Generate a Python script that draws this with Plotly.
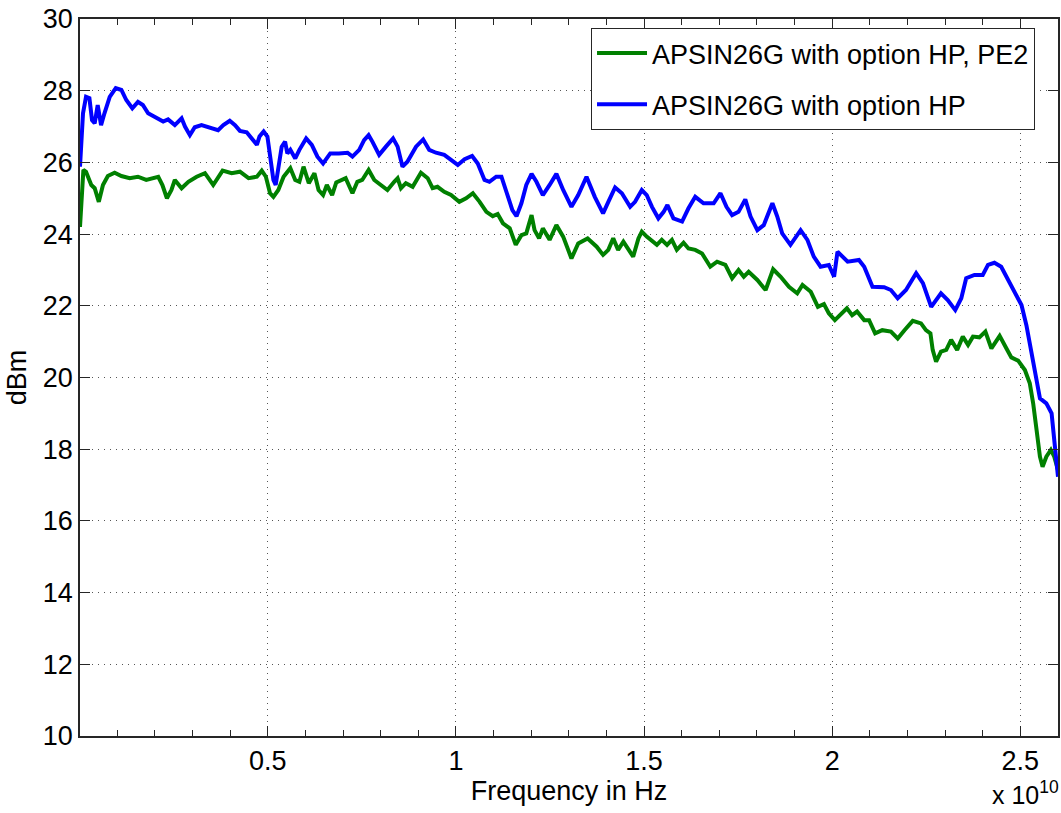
import plotly.graph_objects as go

# Frequencies in GHz, power in dBm
freq_hp_pe2 = [0.01, 0.10, 0.17, 0.31, 0.40, 0.51, 0.62, 0.75, 0.93, 1.11, 1.33, 1.55, 1.77, 1.95, 2.09,
               2.20, 2.32, 2.44, 2.53, 2.71, 2.89, 3.11, 3.33, 3.55, 3.80, 4.04, 4.26, 4.49, 4.71, 4.84,
               4.95, 5.06, 5.15, 5.28, 5.42, 5.60, 5.73, 5.84, 5.95, 6.09, 6.24, 6.35, 6.47, 6.57, 6.71,
               6.82, 7.07, 7.25, 7.38, 7.51, 7.68, 7.83, 8.01, 8.18, 8.36, 8.45, 8.54, 8.67, 8.85, 9.07,
               9.25, 9.38, 9.51, 9.69, 9.87, 10.09, 10.27, 10.45, 10.63, 10.81, 10.98, 11.11, 11.25, 11.43,
               11.59, 11.74, 11.87, 12.01, 12.09, 12.21, 12.31, 12.49, 12.67, 12.85, 13.07, 13.25, 13.50,
               13.74, 13.91, 14.05, 14.18, 14.31, 14.45, 14.58, 14.71, 14.85, 14.94, 15.07, 15.34, 15.47,
               15.61, 15.74, 15.87, 16.05, 16.18, 16.36, 16.54, 16.76, 16.94, 17.16, 17.34, 17.51, 17.65,
               17.78, 18.01, 18.23, 18.43, 18.63, 18.85, 19.07, 19.21, 19.43, 19.62, 19.78, 19.91, 20.07,
               20.26, 20.39, 20.53, 20.66, 20.85, 20.98, 21.14, 21.33, 21.56, 21.74, 21.92, 22.14, 22.36,
               22.49, 22.61, 22.67, 22.76, 22.89, 23.03, 23.16, 23.32, 23.47, 23.61, 23.74, 23.91, 24.07,
               24.23, 24.45, 24.63, 24.76, 24.94, 25.12, 25.25, 25.34, 25.43, 25.52, 25.59, 25.69, 25.81,
               25.90, 26.00]
dbm_hp_pe2 = [24.20, 25.79, 25.74, 25.37, 25.28, 24.90, 25.37, 25.62, 25.71, 25.62, 25.56, 25.60, 25.51, 25.56, 25.60,
              25.37, 25.00, 25.23, 25.51, 25.28, 25.46, 25.60, 25.70, 25.37, 25.77, 25.70, 25.74, 25.56, 25.60, 25.77,
              25.60, 25.14, 25.04, 25.23, 25.60, 25.84, 25.51, 25.46, 25.88, 25.42, 25.70, 25.23, 25.09, 25.37, 25.09,
              25.44, 25.56, 25.14, 25.46, 25.51, 25.79, 25.51, 25.37, 25.23, 25.46, 25.56, 25.28, 25.42, 25.32, 25.71,
              25.56, 25.28, 25.32, 25.18, 25.09, 24.90, 25.00, 25.14, 24.90, 24.62, 24.50, 24.56, 24.30, 24.16,
              23.70, 23.97, 24.02, 24.53, 24.11, 23.88, 24.16, 23.84, 24.25, 23.93, 23.32, 23.74, 23.88,
              23.65, 23.42, 23.56, 23.88, 23.56, 23.79, 23.56, 23.37, 23.88, 24.07, 23.93, 23.70, 23.84,
              23.70, 23.84, 23.56, 23.76, 23.60, 23.56, 23.46, 23.09, 23.23, 23.14, 22.77, 23.00, 22.81,
              22.95, 22.72, 22.44, 23.02, 22.81, 22.53, 22.35, 22.58, 22.39, 21.97, 22.05, 21.79, 21.60,
              21.81, 21.93, 21.74, 21.84, 21.60, 21.60, 21.23, 21.32, 21.28, 21.09, 21.32, 21.58, 21.51,
              21.32, 21.23, 20.77, 20.44, 20.72, 20.77, 21.05, 20.77, 21.14, 20.91, 21.14, 21.12, 21.28,
              20.81, 21.16, 20.81, 20.56, 20.47, 20.21, 19.84, 19.28, 18.54, 17.79, 17.51, 17.79, 17.98,
              17.79, 17.42]

freq_hp = [0.01, 0.09, 0.17, 0.26, 0.33, 0.40, 0.48, 0.57, 0.66, 0.80, 0.96, 1.11, 1.24, 1.40, 1.55,
           1.68, 1.82, 2.04, 2.22, 2.35, 2.53, 2.71, 2.80, 2.93, 3.06, 3.24, 3.42, 3.59, 3.68, 3.82,
           3.99, 4.13, 4.26, 4.44, 4.62, 4.71, 4.78, 4.89, 4.99, 5.06, 5.15, 5.21, 5.28, 5.37, 5.46,
           5.52, 5.60, 5.73, 5.84, 6.02, 6.17, 6.32, 6.47, 6.66, 6.89, 7.12, 7.25, 7.43, 7.56, 7.68,
           7.78, 7.96, 8.14, 8.33, 8.45, 8.58, 8.71, 8.94, 9.13, 9.29, 9.47, 9.69, 9.87, 10.05, 10.23,
           10.43, 10.58, 10.76, 10.89, 11.07, 11.21, 11.34, 11.50, 11.61, 11.74, 11.87, 12.01, 12.14,
           12.31, 12.49, 12.67, 12.85, 13.07, 13.25, 13.47, 13.69, 13.91, 14.05, 14.23, 14.41, 14.63,
           14.76, 14.94, 15.07, 15.21, 15.38, 15.52, 15.62, 15.78, 16.01, 16.18, 16.36, 16.58, 16.85,
           17.03, 17.19, 17.34, 17.51, 17.69, 17.83, 18.01, 18.18, 18.41, 18.54, 18.67, 18.89, 19.16,
           19.34, 19.51, 19.69, 19.91, 20.05, 20.14, 20.41, 20.71, 20.85, 21.07, 21.38, 21.56, 21.74,
           21.96, 22.23, 22.41, 22.63, 22.89, 23.07, 23.27, 23.43, 23.56, 23.78, 24.00, 24.14, 24.31,
           24.49, 24.67, 24.85, 25.03, 25.16, 25.29, 25.43, 25.52, 25.69, 25.83, 25.91, 26.00]
dbm_hp = [25.88, 27.37, 27.83, 27.79, 27.18, 27.09, 27.60, 27.04, 27.37, 27.83, 28.07, 28.02, 27.74, 27.51, 27.69,
          27.60, 27.37, 27.23, 27.14, 27.20, 27.04, 27.23, 27.00, 26.76, 26.98, 27.04, 26.98, 26.95, 26.90, 27.04,
          27.16, 27.04, 26.88, 26.84, 26.62, 26.49, 26.72, 26.86, 26.72, 26.16, 25.51, 25.37, 25.79, 26.44, 26.58,
          26.25, 26.35, 26.11, 26.35, 26.67, 26.49, 26.16, 25.97, 26.25, 26.25, 26.27, 26.16, 26.35, 26.62, 26.76,
          26.58, 26.21, 26.44, 26.67, 26.44, 25.88, 26.02, 26.44, 26.64, 26.35, 26.27, 26.21, 26.07, 25.93, 26.09,
          26.18, 25.97, 25.51, 25.46, 25.60, 25.60, 25.14, 24.67, 24.50, 24.86, 25.37, 25.68, 25.46,
          25.09, 25.37, 25.68, 25.23, 24.76, 25.09, 25.60, 25.04, 24.58, 24.90, 25.30, 25.14, 24.76,
          24.90, 25.23, 25.09, 24.76, 24.44, 24.62, 24.81, 24.44, 24.35, 24.72, 25.04, 24.86, 24.86,
          25.14, 24.76, 24.53, 24.62, 24.97, 24.49, 24.11, 24.25, 24.86, 24.49, 24.02, 23.70, 24.11,
          23.84, 23.37, 23.09, 23.14, 22.81, 23.51, 23.23, 23.28, 23.09, 22.53, 22.52, 22.44, 22.21,
          22.44, 22.91, 22.63, 21.97, 22.35, 22.16, 21.88, 22.21, 22.77, 22.86, 22.86, 23.14, 23.20,
          23.09, 22.72, 22.39, 22.02, 21.46, 20.67, 19.93, 19.42, 19.28, 19.00, 18.16, 17.23]

series_names = ["APSIN26G with option HP, PE2", "APSIN26G with option HP"]
series_colors = ["#008000", "#0000FF"]

x_tick_vals_ghz = [5, 10, 15, 20, 25]
x_tick_text = ["0.5", "1", "1.5", "2", "2.5"]
y_tick_vals = [10, 12, 14, 16, 18, 20, 22, 24, 26, 28, 30]

FONT = "Liberation Sans, Arial, sans-serif"
AXC = "#262626"
FS = 27

fig = go.Figure()
for i, (fx, fy) in enumerate([(freq_hp_pe2, dbm_hp_pe2), (freq_hp, dbm_hp)]):
    fig.add_trace(go.Scatter(
        x=[f * 1e9 for f in fx], y=fy, mode="lines",
        name=series_names[i], legendgroup=f"g{i}",
        line=dict(color=series_colors[i], width=4),
    ))

fig.update_layout(
    width=1061, height=813,
    paper_bgcolor="white", plot_bgcolor="white",
    margin=dict(l=80, r=3, t=19, b=77, autoexpand=False),
    font=dict(family=FONT, size=FS, color="black"),
    showlegend=True,
    legend=dict(
        x=0.9765, y=0.9874, xanchor="right", yanchor="top",
        bgcolor="white", bordercolor=AXC, borderwidth=1,
        font=dict(size=FS), tracegroupgap=13, traceorder="grouped",
        itemwidth=50,
    ),
    xaxis=dict(
        range=[1e7, 2.6e10], tickmode="array",
        tickvals=[v * 1e9 for v in x_tick_vals_ghz], ticktext=x_tick_text,
        ticks="inside", ticklen=10, tickcolor=AXC, tickwidth=1,
        showline=True, linecolor=AXC, linewidth=1.5, mirror="ticks",
        showgrid=True, gridcolor="#555555", griddash="1px,5px", gridwidth=1,
        zeroline=False,
        minor=dict(tickmode="linear", tick0=0, dtick=1e9, ticks="inside", ticklen=6,
                   tickcolor=AXC, showgrid=False),
        title=dict(text="Frequency in Hz", font=dict(size=FS), standoff=0),
        tickfont=dict(size=FS),
    ),
    yaxis=dict(
        range=[10, 30], tickmode="array", tickvals=y_tick_vals,
        ticks="inside", ticklen=10, tickcolor=AXC, tickwidth=1,
        showline=True, linecolor=AXC, linewidth=1.5, mirror="ticks",
        showgrid=True, gridcolor="#555555", griddash="1px,5px", gridwidth=1,
        zeroline=False,
        title=dict(text="dBm", font=dict(size=FS), standoff=8),
        tickfont=dict(size=FS),
    ),
)

fig.add_annotation(
    text="x 10<sup>10</sup>", xref="paper", yref="paper",
    x=1.0 + 3 / 978, y=-0.055, xanchor="right", yanchor="top",
    showarrow=False, font=dict(size=25, family=FONT, color="black"),
)

fig.write_html(
    "out.html",
    config={"displayModeBar": False},
    post_script="document.body.style.margin='0px';document.body.style.overflow='hidden';",
)
